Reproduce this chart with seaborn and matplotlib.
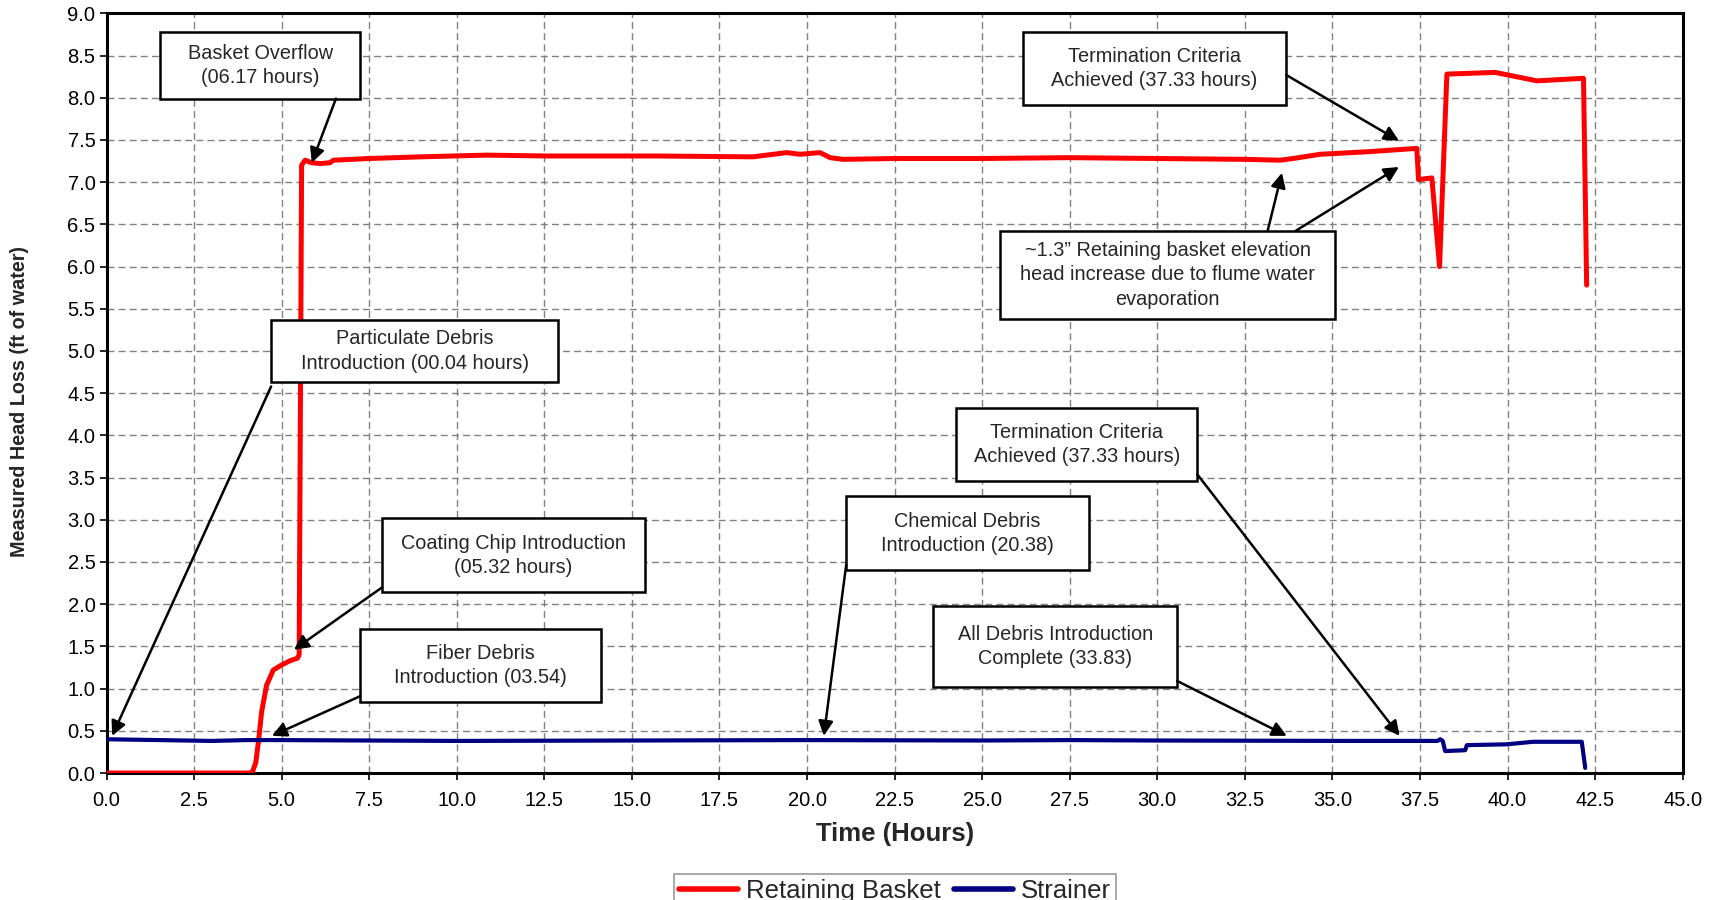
import numpy as np
import pandas as pd
import seaborn as sns
import matplotlib.pyplot as plt
from matplotlib.patches import Rectangle

# Retaining basket head loss (ft of water) vs time (hours)
basket_time = [0.0, 4.10, 4.17, 4.26, 4.34, 4.43, 4.57, 4.76, 5.00, 5.24, 5.45, 5.50,
               5.57, 5.67, 5.85, 6.10, 6.38, 6.48, 7.50, 9.00, 10.86, 12.50, 15.60,
               18.46, 19.42, 19.80, 20.37, 20.66, 21.03, 22.50, 25.00, 27.50, 30.00,
               32.50, 33.51, 33.88, 34.65, 36.00, 37.41, 37.46, 37.84, 38.06, 38.27,
               39.65, 40.84, 42.17, 42.26]
basket_head = [0.00, 0.00, 0.02, 0.12, 0.38, 0.73, 1.04, 1.22, 1.28, 1.33, 1.36, 1.40,
               7.20, 7.26, 7.23, 7.22, 7.23, 7.26, 7.28, 7.30, 7.32, 7.31, 7.31,
               7.30, 7.35, 7.33, 7.35, 7.29, 7.27, 7.28, 7.28, 7.29, 7.28,
               7.27, 7.26, 7.28, 7.33, 7.36, 7.40, 7.03, 7.05, 6.00, 8.28,
               8.30, 8.20, 8.23, 5.78]

# Strainer head loss
strainer_time = [0.0, 1.5, 3.0, 4.0, 5.0, 7.5, 10.0, 15.0, 20.0, 25.0, 27.5, 30.0,
                 35.5, 38.00, 38.08, 38.15, 38.22, 38.79, 38.84, 39.98, 40.73, 42.12, 42.22]
strainer_head = [0.40, 0.39, 0.38, 0.39, 0.39, 0.385, 0.38, 0.385, 0.39, 0.385, 0.39, 0.385,
                 0.38, 0.38, 0.40, 0.38, 0.26, 0.27, 0.33, 0.34, 0.37, 0.37, 0.06]

series_names = ['Retaining Basket', 'Strainer']

# annotation text, box (x0, y0, x1, y1) and arrows (start, tip) in data units
notes = [
    ('Basket Overflow\n(06.17 hours)', (1.53, 7.99, 7.24, 8.78),
     [((6.55, 7.99), (5.86, 7.23))]),
    ('Termination Criteria\nAchieved (37.33 hours)', (26.17, 7.91, 33.68, 8.78),
     [((33.68, 8.27), (36.90, 7.49))]),
    ('~1.3\u201d Retaining basket elevation\nhead increase due to flume water\nevaporation',
     (25.51, 5.38, 35.08, 6.42),
     [((33.15, 6.42), (33.56, 7.11)), ((33.94, 6.42), (36.90, 7.18))]),
    ('Particulate Debris\nIntroduction (00.04 hours)', (4.70, 4.63, 12.89, 5.37),
     [((4.70, 4.58), (0.16, 0.44))]),
    ('Coating Chip Introduction\n(05.32 hours)', (7.87, 2.14, 15.38, 3.02),
     [((7.87, 2.20), (5.35, 1.46))]),
    ('Fiber Debris\nIntroduction (03.54)', (7.24, 0.84, 14.12, 1.71),
     [((7.24, 0.91), (4.72, 0.44))]),
    ('Termination Criteria\nAchieved (37.33 hours)', (24.26, 3.46, 31.14, 4.32),
     [((31.14, 3.54), (36.92, 0.44))]),
    ('Chemical Debris\nIntroduction (20.38)', (21.12, 2.40, 28.05, 3.28),
     [((21.12, 2.47), (20.48, 0.44))]),
    ('All Debris Introduction\nComplete (33.83)', (23.60, 1.02, 30.57, 1.98),
     [((30.57, 1.09), (33.70, 0.44))]),
]

df = pd.concat([
    pd.DataFrame({'time': basket_time, 'head': basket_head, 'series': series_names[0]}),
    pd.DataFrame({'time': strainer_time, 'head': strainer_head, 'series': series_names[1]}),
])

sns.set_style('white')
plt.rcParams['font.family'] = ['Liberation Sans', 'DejaVu Sans']

fig = plt.figure(figsize=(17.21, 9.0), dpi=100)
ax = fig.add_axes([0.0619, 0.1411, 0.9158, 0.8441])

sns.lineplot(data=df, x='time', y='head', hue='series', sort=False, estimator=None,
             palette={'Retaining Basket': '#ff0000', 'Strainer': '#000080'},
             ax=ax, legend=False, zorder=3)
ax.lines[0].set_linewidth(3.6)
ax.lines[1].set_linewidth(3.0)

ax.set_xlim(0, 45)
ax.set_ylim(0, 9)
ax.set_xticks(np.arange(0, 45.01, 2.5))
ax.set_yticks(np.arange(0, 9.01, 0.5))
ax.set_xticklabels([f'{v:.1f}' for v in np.arange(0, 45.01, 2.5)])
ax.set_yticklabels([f'{v:.1f}' for v in np.arange(0, 9.01, 0.5)])
ax.tick_params(axis='both', labelsize=14.5, colors='black', length=5, width=1.2,
               direction='out', left=True, bottom=True)
ax.tick_params(axis='x', pad=8)
ax.tick_params(axis='y', pad=3)
ax.grid(True, color='#808080', linestyle=(0, (5, 3)), linewidth=1.0, zorder=0)
for sp in ax.spines.values():
    sp.set_color('black')
    sp.set_linewidth(2.2)

ax.set_xlabel('Time (Hours)', fontsize=18.5, fontweight='bold')
ax.xaxis.set_label_coords(0.5, -0.064)
ax.set_ylabel('Measured Head Loss (ft of water)', fontsize=14.2, fontweight='bold')
ax.yaxis.set_label_coords(-0.049, 0.489)

for text, (x0, y0, x1, y1), arrows in notes:
    ax.add_patch(Rectangle((x0, y0), x1 - x0, y1 - y0, facecolor='white',
                           edgecolor='black', linewidth=1.8, zorder=6))
    ax.text((x0 + x1) / 2, (y0 + y1) / 2, text, ha='center', va='center',
            fontsize=14.3, linespacing=1.35, zorder=7)
    for start, tip in arrows:
        ax.annotate('', xy=tip, xytext=start,
                    arrowprops=dict(arrowstyle='-|>', color='black', lw=1.8,
                                    mutation_scale=22, shrinkA=0, shrinkB=0),
                    zorder=8)

handles = [plt.Line2D([], [], color='#ff0000', lw=4),
           plt.Line2D([], [], color='#000080', lw=4)]
leg = fig.legend(handles, series_names, loc='upper center', bbox_to_anchor=(0.52, 0.029),
                 ncol=2, fontsize=18.5, frameon=True, fancybox=False, borderaxespad=0,
                 handlelength=2.3, handletextpad=0.3, columnspacing=0.5, borderpad=0.2)
leg.get_frame().set_edgecolor('#808080')
leg.get_frame().set_linewidth(1.2)

fig.savefig('out.png', dpi=100)
